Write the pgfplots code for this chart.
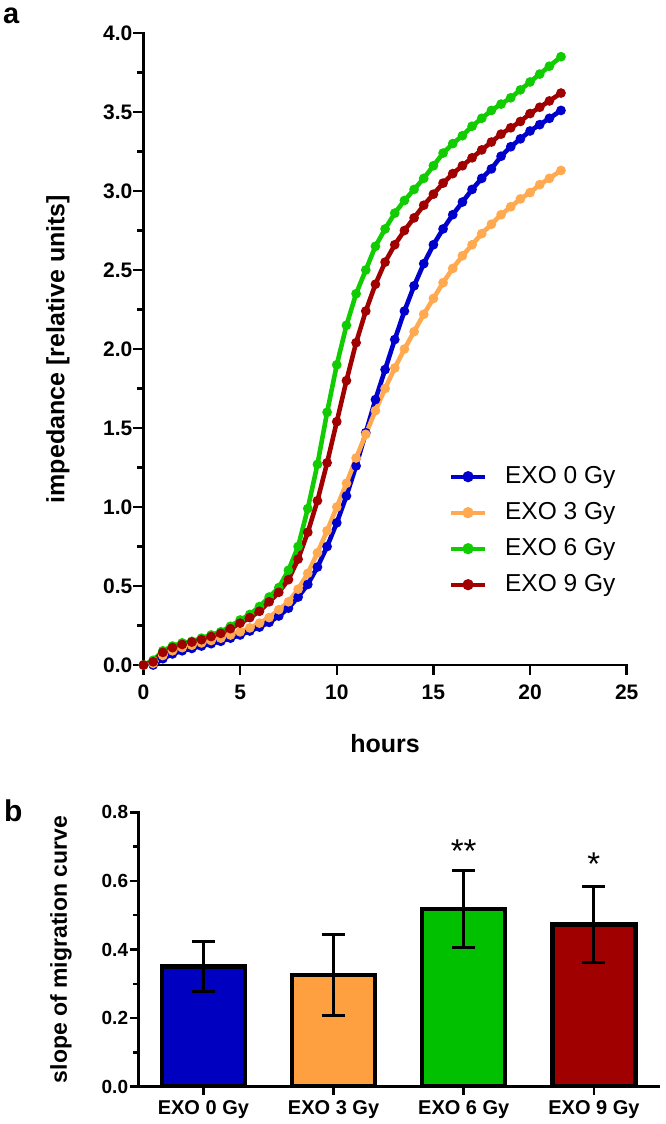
\documentclass[border=0pt]{standalone}
\usepackage{pgfplots}
\pgfplotsset{compat=1.18}
\usepackage{fontspec}
\setmainfont{Liberation Sans}
\definecolor{cblue}{RGB}{0,0,204}
\definecolor{corange}{RGB}{255,170,80}
\definecolor{cgreen}{RGB}{17,204,0}
\definecolor{cred}{RGB}{160,0,0}
\definecolor{bblue}{RGB}{0,0,192}
\definecolor{borange}{RGB}{255,160,64}
\definecolor{bgreen}{RGB}{0,192,0}
\definecolor{bred}{RGB}{160,0,0}
\begin{document}
\begin{tikzpicture}
\useasboundingbox (0pt,-1124pt) rectangle (666pt,0pt);
\node[anchor=base west, inner sep=0pt, font=\bfseries\fontsize{29}{29}\selectfont] at (3pt,-23.3pt) {a};
\node[anchor=base west, inner sep=0pt, font=\bfseries\fontsize{30}{30}\selectfont] at (4pt,-821.7pt) {b};
\begin{axis}[
  at={(143.5pt,-665pt)}, anchor=south west,
  scale only axis, width=483.2pt, height=632pt,
  xmin=0, xmax=25, ymin=0, ymax=4, enlargelimits=false,
  axis lines=left, axis line style={-, line width=2.8pt, line cap=rect},
  xtick={0,5,...,25}, ytick={0,0.5,...,4}, minor y tick num=1,
  tick align=outside, major tick length=10pt, minor tick length=6pt,
  tick style={line width=2.5pt, black},
  /pgf/number format/assume math mode=true,
  ticklabel style={font=\bfseries\fontsize{21}{21}\selectfont},
  xticklabel style={anchor=center, inner sep=0pt, yshift=-17pt},
  yticklabel style={anchor=east, inner sep=0pt, xshift=-1pt, /pgf/number format/.cd, fixed, fixed zerofill, precision=1},
  xlabel={hours}, ylabel={impedance [relative units]},
  every axis x label/.style={at={(axis description cs:0.5,-0.125)}, anchor=center, font=\bfseries\fontsize{25}{25}\selectfont},
  every axis y label/.style={at={(axis description cs:-0.177,0.5)}, anchor=center, rotate=90, font=\bfseries\fontsize{25}{25}\selectfont},
  legend style={at={(axis description cs:0.632,0.3165)}, anchor=north west, draw=none, fill=none, inner sep=0pt, row sep=13pt, column sep=18pt, font=\fontsize{24.5}{24.5}\selectfont, nodes={inner sep=0pt, text height=18pt, text depth=5pt}},
  legend cell align=left,
  legend image code/.code={\draw[mark repeat=2,mark phase=2,#1,line width=4pt,mark size=3.5pt] plot coordinates {(0pt,0pt) (17pt,0pt) (34pt,0pt)};},
  every axis plot/.append style={line width=4.6pt, mark=*, mark size=2.4pt},
]
\addplot[color=cblue] coordinates {
(0,0) (0.5,0.0) (1,0.04) (1.5,0.07) (2,0.09) (2.5,0.105) (3,0.12) (3.5,0.135) (4,0.15) (4.5,0.17)
(5,0.19) (5.5,0.215) (6,0.24) (6.5,0.27) (7,0.31) (7.5,0.36) (8,0.43) (8.5,0.51) (9,0.62) (9.5,0.75)
(10,0.90) (10.5,1.07) (11,1.26) (11.5,1.47) (12,1.68) (12.5,1.87) (13,2.06) (13.5,2.24) (14,2.40) (14.5,2.54)
(15,2.66) (15.5,2.76) (16,2.85) (16.5,2.93) (17,3.01) (17.5,3.08) (18,3.14) (18.5,3.22) (19,3.28) (19.5,3.33)
(20,3.38) (20.5,3.42) (21,3.46) (21.6,3.51)};
\addlegendentry{EXO 0 Gy}
\addplot[color=corange] coordinates {
(0,0) (0.5,0.01) (1,0.06) (1.5,0.09) (2,0.11) (2.5,0.125) (3,0.14) (3.5,0.155) (4,0.17) (4.5,0.19)
(5,0.21) (5.5,0.235) (6,0.265) (6.5,0.30) (7,0.35) (7.5,0.40) (8,0.48) (8.5,0.58) (9,0.71) (9.5,0.85)
(10,1.00) (10.5,1.15) (11,1.31) (11.5,1.46) (12,1.61) (12.5,1.75) (13,1.88) (13.5,2.00) (14,2.11) (14.5,2.22)
(15,2.32) (15.5,2.42) (16,2.51) (16.5,2.59) (17,2.66) (17.5,2.73) (18,2.79) (18.5,2.85) (19,2.90) (19.5,2.95)
(20,2.99) (20.5,3.04) (21,3.08) (21.6,3.13)};
\addlegendentry{EXO 3 Gy}
\addplot[color=cgreen] coordinates {
(0,0) (0.5,0.03) (1,0.09) (1.5,0.12) (2,0.14) (2.5,0.15) (3,0.17) (3.5,0.19) (4,0.21) (4.5,0.245)
(5,0.285) (5.5,0.32) (6,0.37) (6.5,0.43) (7,0.49) (7.5,0.60) (8,0.75) (8.5,0.99) (9,1.27) (9.5,1.60)
(10,1.90) (10.5,2.15) (11,2.35) (11.5,2.50) (12,2.65) (12.5,2.76) (13,2.86) (13.5,2.94) (14,3.01) (14.5,3.08)
(15,3.16) (15.5,3.24) (16,3.30) (16.5,3.35) (17,3.41) (17.5,3.46) (18,3.51) (18.5,3.55) (19,3.59) (19.5,3.64)
(20,3.69) (20.5,3.74) (21,3.79) (21.6,3.85)};
\addlegendentry{EXO 6 Gy}
\addplot[color=cred] coordinates {
(0,0) (0.5,0.02) (1,0.08) (1.5,0.11) (2,0.13) (2.5,0.145) (3,0.16) (3.5,0.18) (4,0.20) (4.5,0.23)
(5,0.265) (5.5,0.30) (6,0.34) (6.5,0.40) (7,0.46) (7.5,0.54) (8,0.67) (8.5,0.84) (9,1.04) (9.5,1.28)
(10,1.54) (10.5,1.80) (11,2.04) (11.5,2.24) (12,2.41) (12.5,2.55) (13,2.66) (13.5,2.75) (14,2.83) (14.5,2.91)
(15,2.98) (15.5,3.05) (16,3.11) (16.5,3.16) (17,3.21) (17.5,3.26) (18,3.31) (18.5,3.36) (19,3.40) (19.5,3.44)
(20,3.49) (20.5,3.53) (21,3.57) (21.6,3.62)};
\addlegendentry{EXO 9 Gy}
\end{axis}
\begin{axis}[
  at={(138.3pt,-1086.6pt)}, anchor=south west,
  scale only axis, width=520.7pt, height=274.3pt,
  xmin=-0.5, xmax=3.5, ymin=0, ymax=0.8, enlargelimits=false,
  axis lines=left, axis line style={-, line width=2.8pt, line cap=rect},
  xtick={0,1,2,3}, xticklabels={EXO 0 Gy, EXO 3 Gy, EXO 6 Gy, EXO 9 Gy},
  ytick={0,0.2,...,0.8}, minor y tick num=1,
  tick align=outside, major tick length=8pt, minor tick length=5pt,
  tick style={line width=2.5pt, black},
  /pgf/number format/assume math mode=true,
  ticklabel style={font=\bfseries\fontsize{19}{19}\selectfont},
  xticklabel style={anchor=center, inner sep=0pt, yshift=-15pt, font=\bfseries\fontsize{20}{20}\selectfont},
  yticklabel style={anchor=east, inner sep=0pt, xshift=-2pt, /pgf/number format/.cd, fixed, fixed zerofill, precision=1},
  ylabel={slope of migration curve},
  every axis y label/.style={at={(axis description cs:-0.1485,0.5)}, anchor=center, rotate=90, font=\bfseries\fontsize{23}{23}\selectfont},
  ybar, bar width=83pt,
  error bars/error bar style={line width=3pt, black},
  error bars/error mark options={line width=3pt, mark size=11.5pt, black, rotate=90},
]
\addplot[bar shift=0pt, fill=bblue, draw=black, line width=4.5pt, error bars/.cd, y dir=both, y explicit] coordinates {(0,0.35) +- (0,0.074)};
\addplot[bar shift=0pt, fill=borange, draw=black, line width=4.5pt, error bars/.cd, y dir=both, y explicit] coordinates {(1,0.325) +- (0,0.118)};
\addplot[bar shift=0pt, fill=bgreen, draw=black, line width=4.5pt, error bars/.cd, y dir=both, y explicit] coordinates {(2,0.518) +- (0,0.112)};
\addplot[bar shift=0pt, fill=bred, draw=black, line width=4.5pt, error bars/.cd, y dir=both, y explicit] coordinates {(3,0.473) +- (0,0.111)};
\node[anchor=base, inner sep=0pt, font=\fontsize{33}{33}\selectfont] at (axis cs:2,0.655) {**};
\node[anchor=base, inner sep=0pt, font=\fontsize{33}{33}\selectfont] at (axis cs:3,0.617) {*};
\end{axis}
\end{tikzpicture}
\end{document}
